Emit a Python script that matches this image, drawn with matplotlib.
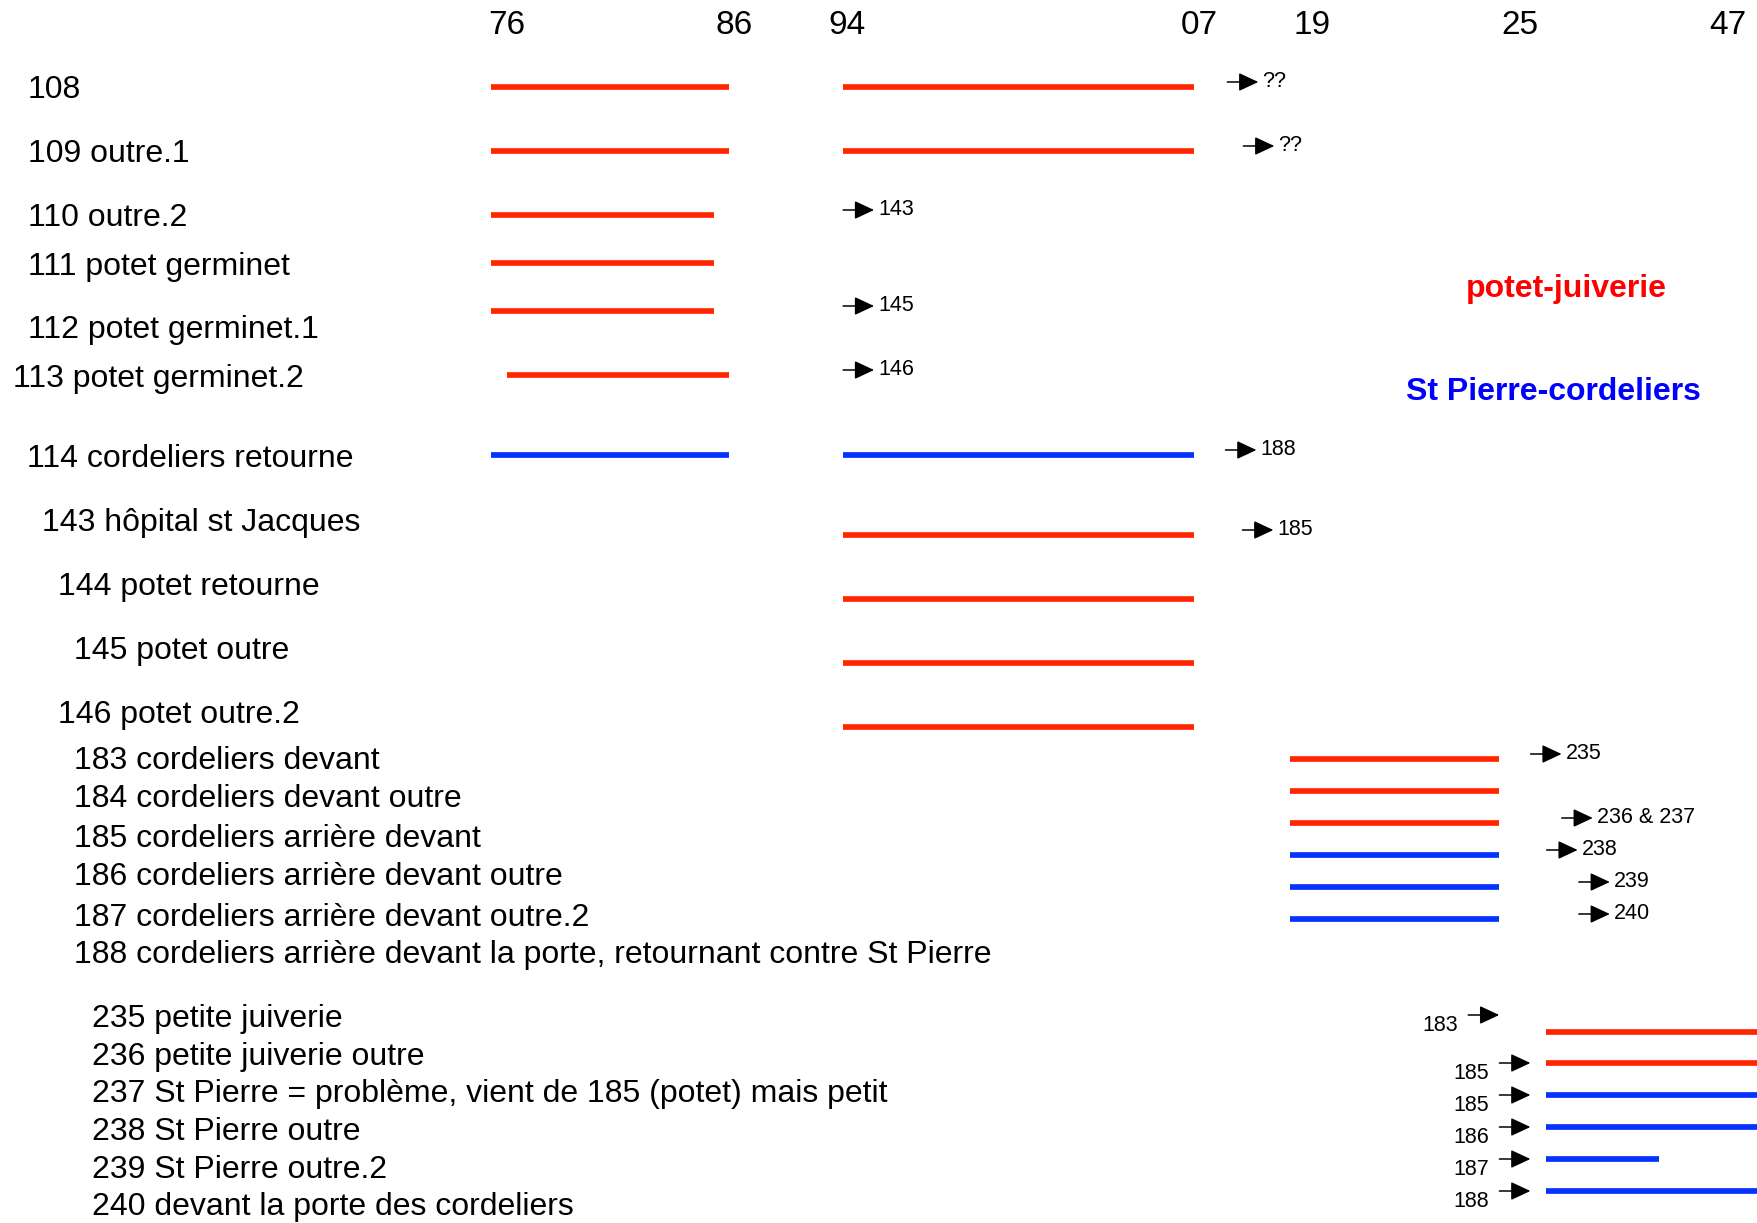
import numpy as np
import matplotlib
matplotlib.use("Agg")
import matplotlib.pyplot as plt

plt.rcParams["font.family"] = ["Liberation Sans", "DejaVu Sans"]

# ---- data -------------------------------------------------------------
# year axis (top labels are the last two digits of the year)
tick_years = [1376, 1386, 1394, 1407, 1419, 1425, 1447]
tick_labels = ["76", "86", "94", "07", "19", "25", "47"]

registers = ["108", "109", "110", "111", "112", "113", "114",
             "143", "144", "145", "146",
             "183", "184", "185", "186", "187", "188",
             "235", "236", "237", "238", "239", "240"]
register_names = [
    "108", "109 outre.1", "110 outre.2", "111 potet germinet",
    "112 potet germinet.1", "113 potet germinet.2", "114 cordeliers retourne",
    "143 hôpital st Jacques", "144 potet retourne", "145 potet outre",
    "146 potet outre.2",
    "183 cordeliers devant", "184 cordeliers devant outre",
    "185 cordeliers arrière devant", "186 cordeliers arrière devant outre",
    "187 cordeliers arrière devant outre.2",
    "188 cordeliers arrière devant la porte, retournant contre St Pierre",
    "235 petite juiverie", "236 petite juiverie outre",
    "237 St Pierre = problème, vient de 185 (potet) mais petit",
    "238 St Pierre outre", "239 St Pierre outre.2",
    "240 devant la porte des cordeliers",
]

# one entry per drawn span (register, start year, end year, route)
bar_register = ["108", "108", "109", "109", "110", "111", "112", "113", "114", "114",
                "143", "144", "145", "146",
                "183", "184", "185", "186", "187", "188",
                "235", "236", "237", "238", "239", "240"]
bar_start = [1375.3, 1393.7, 1375.3, 1393.7, 1375.3, 1375.3, 1375.3, 1376.0, 1375.3, 1393.7,
             1393.7, 1393.7, 1393.7, 1393.7,
             1416.7, 1416.7, 1416.7, 1416.7, 1416.7, 1416.7,
             1427.8, 1427.8, 1427.8, 1427.8, 1427.8, 1427.8]
bar_end = [1385.8, 1406.8, 1385.8, 1406.8, 1385.1, 1385.1, 1385.1, 1385.8, 1385.8, 1406.8,
           1406.8, 1406.8, 1406.8, 1406.8,
           1424.4, 1424.4, 1424.4, 1424.4, 1424.4, 1424.4,
           1450.5, 1450.5, 1450.5, 1450.5, 1439.7, 1450.5]
bar_route = ["P", "P", "P", "P", "P", "P", "P", "P", "S", "S",
             "P", "P", "P", "P",
             "P", "P", "P", "S", "S", "S",
             "P", "P", "S", "S", "S", "S"]

# "continues in" arrows after a register
next_from = ["108", "109", "110", "112", "113", "114", "143",
             "183", "185", "186", "187", "188"]
next_to = ["??", "??", "143", "145", "146", "188", "185",
           "235", "236 & 237", "238", "239", "240"]
next_at = [1413.3, 1415.0, 1395.0, 1395.0, 1395.0, 1413.1, 1414.9,
           1429.4, 1432.7, 1431.1, 1434.5, 1434.5]

# "comes from" arrows before a register
prev_to = ["235", "236", "237", "238", "239", "240"]
prev_from = ["183", "185", "185", "186", "187", "188"]
prev_at = [1424.4, 1426.1, 1426.1, 1426.1, 1426.1, 1426.1]

route_names = {"P": "potet-juiverie", "S": "St Pierre-cordeliers"}

# ---- layout (pixels) --------------------------------------------------
W, H = 1758, 1223
tick_px = [507, 734, 847, 1199, 1312, 1520, 1728]
row_y = [87, 151, 215, 263, 311, 375, 455,
         535, 599, 663, 727,
         759, 791, 823, 855, 887, 919,
         1032, 1063, 1095, 1127, 1159, 1191]
label_x = [28, 28, 28, 28, 28, 13, 27,
           42.5, 58.5, 74, 58.5,
           74, 74, 74, 74, 74, 74,
           92.5, 92.5, 92.5, 92.5, 92.5, 92.5]
label_base = [98.5, 162.5, 226.5, 274.5, 338, 386.5, 467,
              531.5, 595, 659, 722.5,
              769, 807, 847, 885, 925.5, 963,
              1026.5, 1064.5, 1102, 1139.5, 1177.5, 1214.5]
prev_dy = [-17, 0, 0, 0, 0, 0]
route_colors = {"P": "#FF2600", "S": "#0433FF"}
legend_colors = {"P": "#FF0000", "S": "#0000FF"}
legend_pos = {"P": (1566, 297), "S": (1553, 400)}
PT = 72 / 100  # points per pixel at dpi 100

# piecewise-linear year axis, extended past the first/last tick
s0 = (tick_px[1] - tick_px[0]) / (tick_years[1] - tick_years[0])
s1 = (tick_px[-1] - tick_px[-2]) / (tick_years[-1] - tick_years[-2])
ext_years = [tick_years[0] - 200] + tick_years + [tick_years[-1] + 200]
ext_px = [tick_px[0] - 200 * s0] + tick_px + [tick_px[-1] + 200 * s1]


def fwd(x):
    return np.interp(x, ext_years, ext_px)


def inv(p):
    return np.interp(p, ext_px, ext_years)


fig = plt.figure(figsize=(W / 100, H / 100), dpi=100)
ax = fig.add_axes([0, 0, 1, 1])
ax.set_xscale("function", functions=(fwd, inv))
ax.set_xlim(inv(0), inv(W))
ax.set_ylim(H, 0)
ax.axis("off")

lay = fig.add_axes([0, 0, 1, 1], frameon=False)
lay.set_xlim(0, W)
lay.set_ylim(H, 0)
lay.axis("off")

ypos = dict(zip(registers, row_y))

# year labels
for yr, lab in zip(tick_years, tick_labels):
    ax.text(yr, 34, lab, ha="center", va="baseline", fontsize=24)

# register names
for name, x, yb in zip(register_names, label_x, label_base):
    lay.text(x, yb, name, ha="left", va="baseline", fontsize=23)

# spans
for r, a, b, route in zip(bar_register, bar_start, bar_end, bar_route):
    ax.hlines(ypos[r], a, b, colors=route_colors[route], linewidth=4.1,
              capstyle="butt")

arrow_kw = dict(arrowstyle="-|>,head_length=0.6,head_width=0.28",
                mutation_scale=20, color="black", lw=1.1,
                shrinkA=0, shrinkB=0)

for r, target, at in zip(next_from, next_to, next_at):
    y = ypos[r] - 5
    ax.annotate("", xy=(at, y), xytext=(-31 * PT, 0),
                textcoords="offset points", arrowprops=arrow_kw)
    ax.annotate(target, xy=(at, y), xytext=(4 * PT, -4.7 * PT),
                textcoords="offset points", ha="left", va="baseline",
                fontsize=15.5)

for r, src, at, dy in zip(prev_to, prev_from, prev_at, prev_dy):
    y = ypos[r] + dy
    ax.annotate("", xy=(at, y), xytext=(-31 * PT, 0),
                textcoords="offset points", arrowprops=arrow_kw)
    ax.annotate(src, xy=(at, y), xytext=(-41 * PT, -16.4 * PT),
                textcoords="offset points", ha="right", va="baseline",
                fontsize=15.5)

# route key
for key, name in route_names.items():
    x, y = legend_pos[key]
    lay.text(x, y, name, ha="center", va="baseline", fontsize=23,
             fontweight="bold", color=legend_colors[key])

fig.savefig("out.png", dpi=100)
